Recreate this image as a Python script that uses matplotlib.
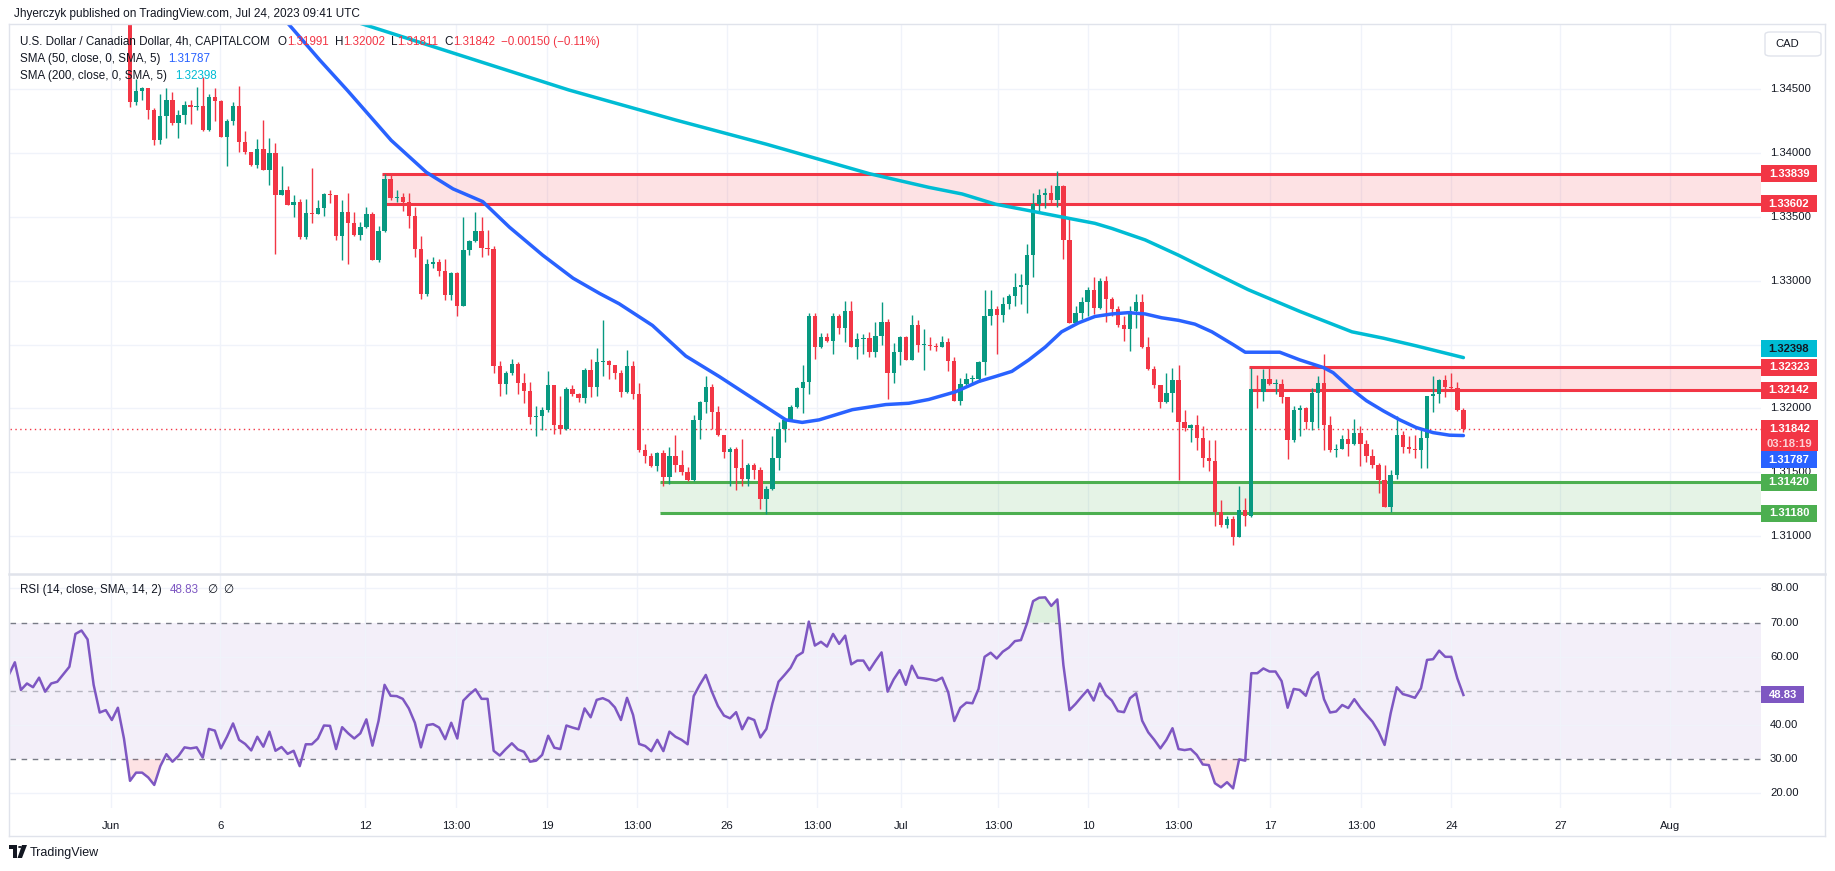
import numpy as np
import matplotlib
matplotlib.use("Agg")
import matplotlib.pyplot as plt
from matplotlib.patches import Rectangle, FancyBboxPatch, Circle, Polygon
from matplotlib.lines import Line2D

plt.rcParams['font.family'] = ['Liberation Sans', 'DejaVu Sans']

# USDCAD 4h candles, index 0 = first candle visible under the top edge
first_open = 1.3525
closes = [
    1.3440, 1.3449, 1.3451, 1.3434, 1.3410, 1.3429, 1.3442, 1.3424, 1.3430, 1.3438,
    1.3436, 1.3437, 1.3418, 1.3444, 1.3441, 1.3413, 1.3425, 1.3437, 1.3409, 1.3401,
    1.3391, 1.3403, 1.3387, 1.3400, 1.3367, 1.3371, 1.3359, 1.3362, 1.3334, 1.3353,
    1.3352, 1.3357, 1.3368, 1.3367, 1.3335, 1.3354, 1.3345, 1.3336, 1.3342, 1.3352,
    1.3316, 1.3339, 1.3380, 1.3365, 1.3366, 1.3362, 1.3351, 1.3325, 1.3290, 1.3313,
    1.3315, 1.3308, 1.3289, 1.3306, 1.3280, 1.3324, 1.3331, 1.3339, 1.3326, 1.3325,
    1.3233, 1.3219, 1.3228, 1.3235, 1.3220, 1.3214, 1.3193, 1.3194, 1.3199, 1.3218,
    1.3187, 1.3184, 1.3215, 1.3211, 1.3208, 1.3230, 1.3217, 1.3236, 1.3237, 1.3234,
    1.3228, 1.3213, 1.3233, 1.3211, 1.3167, 1.3163, 1.3155, 1.3165, 1.3146, 1.3163,
    1.3156, 1.3150, 1.3144, 1.3191, 1.3205, 1.3217, 1.3197, 1.3179, 1.3166, 1.3168,
    1.3153, 1.3145, 1.3156, 1.3152, 1.3129, 1.3137, 1.3161, 1.3184, 1.3191, 1.3201,
    1.3216, 1.3221, 1.3272, 1.3248, 1.3256, 1.3253, 1.3272, 1.3263, 1.3276, 1.3248,
    1.3254, 1.3255, 1.3244, 1.3257, 1.3268, 1.3228, 1.3244, 1.3256, 1.3238, 1.3265,
    1.3250, 1.3250, 1.3249, 1.3248, 1.3252, 1.3237, 1.3206, 1.3219, 1.3223, 1.3223,
    1.3236, 1.3272, 1.3278, 1.3273, 1.3282, 1.3288, 1.3295, 1.3297, 1.3320, 1.3360,
    1.3367, 1.3369, 1.3363, 1.3374, 1.3332, 1.3267, 1.3275, 1.3283, 1.3293, 1.3279,
    1.3300, 1.3286, 1.3278, 1.3265, 1.3262, 1.3276, 1.3283, 1.3248, 1.3231, 1.3218,
    1.3205, 1.3212, 1.3222, 1.3189, 1.3185, 1.3187, 1.3177, 1.3161, 1.3159, 1.3119,
    1.3109, 1.3113, 1.3099, 1.3120, 1.3116, 1.3215, 1.3213, 1.3223, 1.3219, 1.3219,
    1.3209, 1.3175, 1.3199, 1.3200, 1.3189, 1.3212, 1.3220, 1.3187, 1.3167, 1.3168,
    1.3176, 1.3172, 1.3181, 1.3172, 1.3163, 1.3156, 1.3144, 1.3123, 1.3148, 1.3179,
    1.3170, 1.3168, 1.3167, 1.3177, 1.3210, 1.3211, 1.3222, 1.3217, 1.3216, 1.31991,
    1.31842,
]
highs = [
    1.3530, 1.3458, 1.3452, 1.3451, 1.3435, 1.3446, 1.3451, 1.3448, 1.3434, 1.3441,
    1.3442, 1.3452, 1.3460, 1.3446, 1.3451, 1.3442, 1.3427, 1.3440, 1.3453, 1.3417,
    1.3400, 1.3411, 1.3426, 1.3412, 1.3408, 1.3390, 1.3374, 1.3367, 1.3364, 1.3364,
    1.3388, 1.3363, 1.3369, 1.3371, 1.3367, 1.3363, 1.3369, 1.3354, 1.3346, 1.3358,
    1.3354, 1.3343, 1.3384, 1.3383, 1.3371, 1.3369, 1.3369, 1.3358, 1.3335, 1.3317,
    1.3319, 1.3317, 1.3317, 1.3307, 1.3307, 1.3350, 1.3332, 1.3354, 1.3350, 1.3340,
    1.3327, 1.3237, 1.3229, 1.3239, 1.3236, 1.3228, 1.3221, 1.3202, 1.3201, 1.3229,
    1.3218, 1.3210, 1.3217, 1.3218, 1.3212, 1.3232, 1.3239, 1.3247, 1.3269, 1.3238,
    1.3233, 1.3230, 1.3246, 1.3237, 1.3220, 1.3172, 1.3165, 1.3166, 1.3167, 1.3170,
    1.3179, 1.3167, 1.3154, 1.3195, 1.3206, 1.3225, 1.3219, 1.3202, 1.3179, 1.3170,
    1.3170, 1.3176, 1.3157, 1.3157, 1.3154, 1.3139, 1.3178, 1.3189, 1.3192, 1.3203,
    1.3217, 1.3234, 1.3275, 1.3275, 1.3259, 1.3259, 1.3275, 1.3274, 1.3284, 1.3284,
    1.3259, 1.3258, 1.3260, 1.3268, 1.3283, 1.3270, 1.3251, 1.3257, 1.3257, 1.3273,
    1.3269, 1.3262, 1.3256, 1.3251, 1.3257, 1.3255, 1.3240, 1.3224, 1.3228, 1.3226,
    1.3237, 1.3293, 1.3293, 1.3280, 1.3287, 1.3290, 1.3306, 1.3305, 1.3329, 1.3369,
    1.3372, 1.3373, 1.3375, 1.3386, 1.3375, 1.3349, 1.3280, 1.3287, 1.3295, 1.3303,
    1.3302, 1.3304, 1.3287, 1.3280, 1.3272, 1.3280, 1.3290, 1.3290, 1.3256, 1.3233,
    1.3218, 1.3228, 1.3232, 1.3234, 1.3199, 1.3188, 1.3195, 1.3186, 1.3175, 1.3175,
    1.3128, 1.3116, 1.3116, 1.3139, 1.3130, 1.3232, 1.3226, 1.3231, 1.3232, 1.3223,
    1.3223, 1.3209, 1.3202, 1.3203, 1.3201, 1.3216, 1.3225, 1.3243, 1.3194, 1.3172,
    1.3179, 1.3184, 1.3192, 1.3186, 1.3175, 1.3168, 1.3157, 1.3156, 1.3152, 1.3194,
    1.3182, 1.3178, 1.3179, 1.3183, 1.3210, 1.3225, 1.3223, 1.3226, 1.3228, 1.3221,
    1.32002,
]
lows = [
    1.3436, 1.3438, 1.3442, 1.3427, 1.3406, 1.3407, 1.3412, 1.3422, 1.3412, 1.3423,
    1.3423, 1.3434, 1.3417, 1.3417, 1.3425, 1.3413, 1.3390, 1.3422, 1.3401, 1.3399,
    1.3390, 1.3388, 1.3387, 1.3375, 1.3321, 1.3367, 1.3359, 1.3350, 1.3333, 1.3333,
    1.3345, 1.3352, 1.3351, 1.3361, 1.3332, 1.3316, 1.3313, 1.3335, 1.3332, 1.3341,
    1.3316, 1.3315, 1.3338, 1.3363, 1.3362, 1.3355, 1.3341, 1.3319, 1.3286, 1.3288,
    1.3310, 1.3304, 1.3285, 1.3285, 1.3272, 1.3282, 1.3320, 1.3330, 1.3319, 1.3320,
    1.3228, 1.3210, 1.3211, 1.3226, 1.3211, 1.3204, 1.3188, 1.3178, 1.3183, 1.3197,
    1.3180, 1.3180, 1.3183, 1.3210, 1.3205, 1.3204, 1.3209, 1.3210, 1.3225, 1.3223,
    1.3223, 1.3209, 1.3212, 1.3207, 1.3166, 1.3157, 1.3154, 1.3151, 1.3139, 1.3141,
    1.3150, 1.3148, 1.3143, 1.3143, 1.3176, 1.3196, 1.3184, 1.3178, 1.3161, 1.3139,
    1.3136, 1.3139, 1.3139, 1.3145, 1.3121, 1.3117, 1.3136, 1.3152, 1.3174, 1.3190,
    1.3200, 1.3196, 1.3211, 1.3239, 1.3247, 1.3252, 1.3243, 1.3258, 1.3252, 1.3248,
    1.3239, 1.3243, 1.3240, 1.3240, 1.3250, 1.3207, 1.3220, 1.3234, 1.3238, 1.3238,
    1.3244, 1.3230, 1.3246, 1.3245, 1.3248, 1.3229, 1.3206, 1.3203, 1.3218, 1.3218,
    1.3221, 1.3226, 1.3265, 1.3243, 1.3268, 1.3278, 1.3280, 1.3282, 1.3275, 1.3303,
    1.3355, 1.3357, 1.3360, 1.3358, 1.3317, 1.3267, 1.3266, 1.3270, 1.3272, 1.3274,
    1.3278, 1.3268, 1.3272, 1.3264, 1.3253, 1.3245, 1.3263, 1.3247, 1.3230, 1.3216,
    1.3200, 1.3204, 1.3197, 1.3144, 1.3182, 1.3174, 1.3167, 1.3154, 1.3151, 1.3108,
    1.3107, 1.3106, 1.3093, 1.3099, 1.3108, 1.3115, 1.3200, 1.3206, 1.3218, 1.3211,
    1.3204, 1.3160, 1.3174, 1.3178, 1.3184, 1.3183, 1.3185, 1.3167, 1.3166, 1.3162,
    1.3168, 1.3163, 1.3171, 1.3155, 1.3158, 1.3153, 1.3134, 1.3123, 1.3119, 1.3145,
    1.3165, 1.3165, 1.3161, 1.3153, 1.3153, 1.3197, 1.3204, 1.3209, 1.3214, 1.3198,
    1.31811,
]

# moving averages, read as points along the drawn lines
sma50_idx = [26.0, 31.3, 35.9, 43.1, 48.9, 53.3, 58.2, 62.6, 68.1, 73.1, 77.5, 80.7,
             86.2, 91.7, 97.2, 102.7, 108.2, 110.9, 113.7, 119.2, 124.7, 128.5, 131.8,
             136.2, 140.0, 142.8, 145.5, 148.3, 151.0, 153.7, 156.5, 159.2, 162.0,
             164.7, 167.5, 170.2, 173.0, 175.7, 178.5, 182.0, 184.0, 189.7, 193.0,
             196.9, 198.5, 201.3, 204.0, 206.8, 209.5, 212.2, 215.0, 217.7, 220.0]
sma50_val = [1.3502, 1.3473, 1.3449, 1.3410, 1.3385, 1.3372, 1.3362, 1.3342, 1.3320,
             1.3302, 1.3290, 1.3282, 1.3265, 1.3241, 1.3225, 1.3208, 1.3191, 1.3189,
             1.3191, 1.3199, 1.3203, 1.3204, 1.3207, 1.3213, 1.3221, 1.3225, 1.3229,
             1.3238, 1.3248, 1.3260, 1.3267, 1.3272, 1.3274, 1.3275, 1.3274, 1.3271,
             1.3269, 1.3266, 1.3260, 1.3250, 1.3244, 1.3244, 1.3238, 1.3232, 1.3228,
             1.3216, 1.3206, 1.3198, 1.3191, 1.3185, 1.3181, 1.3179, 1.31787]
sma200_idx = [36.5, 39.8, 72.4, 90.0, 105.0, 122.0, 131.8, 137.3, 142.8, 148.3, 153.7,
              159.2, 162.0, 167.5, 173.0, 178.5, 184.5, 193.0, 201.6, 206.8, 212.2, 220.0]
sma200_val = [1.3504, 1.3499, 1.34495, 1.3426, 1.3407, 1.33839, 1.33732, 1.3368, 1.3360,
              1.3355, 1.3350, 1.3345, 1.3341, 1.3332, 1.3320, 1.3307, 1.3293, 1.3276,
              1.3260, 1.3255, 1.3249, 1.32398]

# RSI(14), one value per candle, starting 20 candles before index 0
rsi_start = -20
rsi_vals = [
    54.7, 58.4, 50.3, 52.2, 51.1, 53.9, 49.8, 52.2, 52.7, 54.9,
    57.1, 66.7, 67.7, 65.1, 51.8, 43.7, 44.4, 41.5, 45.1, 36.1,
    23.7, 26.1, 26.1, 24.7, 22.5, 28.0, 31.5, 29.3, 31.0, 33.5,
    33.2, 33.5, 30.5, 38.9, 38.4, 33.2, 36.6, 40.5, 35.7, 34.5,
    32.6, 36.6, 33.7, 38.1, 32.5, 33.6, 31.6, 32.5, 28.0, 34.4,
    34.4, 36.1, 39.9, 39.8, 33.0, 39.4, 37.6, 36.1, 37.6, 41.7,
    34.0, 41.2, 51.8, 48.6, 48.5, 47.7, 44.9, 40.7, 33.5, 40.0,
    40.3, 39.3, 35.9, 40.7, 36.1, 47.2, 49.0, 50.5, 47.7, 47.7,
    32.5, 31.1, 33.0, 34.7, 32.9, 32.2, 29.3, 29.6, 31.3, 36.9,
    33.4, 33.0, 39.9, 39.3, 38.8, 44.9, 42.3, 47.4, 47.9, 47.1,
    45.2, 41.5, 48.0, 43.0, 34.5, 33.9, 32.4, 35.7, 32.4, 38.1,
    36.6, 35.7, 34.4, 48.5, 51.8, 54.7, 49.8, 45.6, 42.8, 42.0,
    43.8, 38.8, 42.2, 41.5, 36.4, 38.9, 46.4, 52.7, 54.7, 56.8,
    60.2, 61.3, 70.3, 63.3, 64.4, 63.0, 66.7, 63.8, 66.2, 57.8,
    58.9, 58.9, 56.1, 58.8, 61.3, 49.8, 53.4, 56.1, 51.8, 57.4,
    53.9, 53.7, 53.4, 53.0, 53.9, 49.6, 41.2, 45.1, 46.6, 46.4,
    50.6, 60.0, 61.2, 59.5, 61.5, 62.7, 64.6, 64.9, 69.8, 76.3,
    77.3, 77.4, 74.9, 76.8, 57.6, 44.4, 46.2, 48.3, 50.3, 47.2,
    52.2, 48.8, 47.2, 44.1, 43.8, 47.9, 49.3, 41.3, 37.9, 35.7,
    33.2, 35.7, 39.1, 33.0, 32.7, 33.0, 31.3, 28.5, 28.3, 23.0,
    21.8, 23.3, 21.5, 30.0, 29.6, 55.2, 55.2, 56.6, 55.7, 55.7,
    52.9, 45.1, 50.6, 50.3, 48.6, 53.7, 55.5, 47.6, 43.7, 44.0,
    45.9, 45.0, 47.6, 45.1, 43.0, 41.0, 38.1, 34.2, 43.5, 51.1,
    49.1, 48.6, 48.0, 50.8, 59.1, 59.3, 61.8, 60.0, 60.0, 53.7,
    48.83,
]

# zones drawn by the author: (low, high, first candle)
resist_top = (1.33602, 1.33839, 41.5)
resist_mid = (1.32142, 1.32323, 184.7)
support = (1.31180, 1.31420, 87.5)

date_pos = [-3.1, 14.9, 38.8, 53.8, 68.8, 83.7, 98.5, 113.4, 127.2, 143.2, 158.1,
            172.9, 188.1, 203.1, 218.0, 236.0, 254.1]
date_lbl = ['Jun', '6', '12', '13:00', '19', '13:00', '26', '13:00', 'Jul', '13:00',
            '10', '13:00', '17', '13:00', '24', '27', 'Aug']
price_ticks = [1.310, 1.315, 1.320, 1.325, 1.330, 1.335, 1.340, 1.345]
rsi_ticks = [20, 30, 40, 60, 70, 80]   # 50.00 sits under the value tag

UP = '#089981'
DN = '#F23645'
BLUE = '#2962FF'
CYAN = '#00BCD4'
PURPLE = '#7E57C2'
GREEN = '#4CAF50'
GRID = '#F0F3FA'
TXT = '#131722'
FRAME = '#E0E3EB'

W, H = 1835, 871
fig = plt.figure(figsize=(W / 100, H / 100), dpi=100)
fig.patch.set_facecolor('white')

L, R = 10, 1761


def pane(top, bot):
    return [L / W, 1 - bot / H, (R - L) / W, (bot - top) / H]


ax = fig.add_axes(pane(24, 573))
axr = fig.add_axes(pane(575, 808))
XLIM = (-19.8, 269.1)
for a in (ax, axr):
    a.set_xlim(*XLIM)
    for s in a.spines.values():
        s.set_visible(False)
    a.set_xticks(date_pos)
    a.tick_params(length=0, labelleft=False, labelbottom=False)
    a.grid(True, color=GRID, lw=1)
    a.set_axisbelow(True)
ax.set_ylim(1.30710, 1.35012)
ax.set_yticks(price_ticks)
axr.set_ylim(15.75, 83.95)
axr.set_yticks([20, 40, 60, 80])
axr.set_xticklabels(date_lbl)
axr.tick_params(labelbottom=True, pad=9.5, labelsize=8.1, labelcolor=TXT)

# candles
c = np.array(closes)
o = np.r_[first_open, c[:-1]]
h = np.maximum(np.array(highs), np.maximum(o, c))
lo = np.minimum(np.array(lows), np.minimum(o, c))
k = np.arange(len(c))
col = np.where(c >= o, UP, DN)
ax.vlines(k, lo, h, colors=col, lw=1.0, zorder=3)
ax.bar(k, np.maximum(np.abs(c - o), 0.00008), bottom=np.minimum(o, c), width=0.72,
       color=col, lw=0, zorder=3)

# zones
for (zlo, zhi, start), zc in ((resist_top, DN), (resist_mid, DN), (support, GREEN)):
    ax.add_patch(Rectangle((start, zlo), XLIM[1] - start, zhi - zlo, facecolor=zc,
                           alpha=0.14, lw=0, zorder=1))
    ax.hlines([zlo, zhi], start, XLIM[1], colors=zc, lw=2.2, zorder=2)

ax.axhline(closes[-1], color=DN, lw=1, ls=(0, (1, 2.5)), zorder=2)
ax.plot(sma200_idx, sma200_val, color=CYAN, lw=2.5, zorder=4, solid_capstyle='round')
ax.plot(sma50_idx, sma50_val, color=BLUE, lw=2.5, zorder=4, solid_capstyle='round')

# RSI pane
ri = np.arange(rsi_start, rsi_start + len(rsi_vals))
rv = np.array(rsi_vals)
axr.axhspan(30, 70, color=PURPLE, alpha=0.09, lw=0, zorder=0)
for lvl, al in ((70, 1.0), (30, 1.0), (50, 0.5)):
    axr.axhline(lvl, color='#787B86', alpha=al, lw=1, ls=(0, (4, 4)), zorder=1)
axr.fill_between(ri, rv, 70, where=rv > 70, interpolate=True, color=GREEN, alpha=0.18, lw=0)
axr.fill_between(ri, rv, 30, where=rv < 30, interpolate=True, color=DN, alpha=0.14, lw=0)
axr.plot(ri, rv, color=PURPLE, lw=1.8, zorder=3)


def fy(y):
    return 1 - y / H


def ypix(a, v):
    return H - a.transData.transform((0, v))[1]


def frame_line(x0, y0, x1, y1, lw=1.0):
    fig.add_artist(Line2D([x0 / W, x1 / W], [fy(y0), fy(y1)], color=FRAME, lw=lw,
                          transform=fig.transFigure, zorder=1))


frame_line(9, 24, 1825, 24)
frame_line(9, 836, 1825, 836)
frame_line(9, 24, 9, 836)
frame_line(1825, 24, 1825, 836)
frame_line(9, 574, 1825, 574, lw=1.8)

# axis labels
for p in price_ticks:
    fig.text(1770 / W, fy(ypix(ax, p)), f'{p:.5f}', fontsize=8.1, color=TXT,
             ha='left', va='center', zorder=3)
for r in rsi_ticks:
    fig.text(1770 / W, fy(ypix(axr, r)), f'{r:.2f}', fontsize=8.1, color=TXT,
             ha='left', va='center', zorder=3)


def tag(yc, text, face, fg='white', x0=1761, x1=1817, hgt=17):
    fig.add_artist(Rectangle((x0 / W, fy(yc + hgt / 2)), (x1 - x0) / W, hgt / H,
                             transform=fig.transFigure, facecolor=face, lw=0, zorder=5))
    fig.text((x0 + x1) / 2 / W, fy(yc), text, color=fg, fontsize=8.1, fontweight='bold',
             ha='center', va='center', zorder=6)


tag(ypix(ax, resist_top[1]), f'{resist_top[1]:.5f}', DN)
tag(ypix(ax, resist_top[0]), f'{resist_top[0]:.5f}', DN)
tag(ypix(ax, sma200_val[-1]) - 9, f'{sma200_val[-1]:.5f}', CYAN, fg=TXT)
tag(ypix(ax, resist_mid[1]), f'{resist_mid[1]:.5f}', DN)
tag(ypix(ax, resist_mid[0]), f'{resist_mid[0]:.5f}', DN)
tag(ypix(ax, support[1]), f'{support[1]:.5f}', GREEN)
tag(ypix(ax, support[0]), f'{support[0]:.5f}', GREEN)
tag(ypix(ax, sma50_val[-1]) + 24, f'{sma50_val[-1]:.5f}', BLUE)
# last price with countdown
yc = ypix(ax, closes[-1])
fig.add_artist(Rectangle((1761 / W, fy(yc + 22.5)), 57 / W, 31 / H, transform=fig.transFigure,
                         facecolor=DN, lw=0, zorder=5))
fig.text(1789.5 / W, fy(yc), f'{closes[-1]:.5f}', color='white', fontsize=8.1,
         fontweight='bold', ha='center', va='center', zorder=6)
fig.text(1789.5 / W, fy(yc + 15), '03:18:19', color='#FCD2D6', fontsize=8.1,
         fontweight='bold', ha='center', va='center', zorder=6)
tag(ypix(axr, rsi_vals[-1]), f'{rsi_vals[-1]:.2f}', PURPLE, x1=1804)

# currency box
fig.add_artist(FancyBboxPatch((1765 / W, fy(56)), 56 / W, 24 / H, transform=fig.transFigure,
                              boxstyle='round,pad=0,rounding_size=0.003', facecolor='white',
                              edgecolor=FRAME, lw=1, zorder=5))
fig.text(1775 / W, fy(44), 'CAD', fontsize=8.1, color=TXT, ha='left', va='center', zorder=6)

# legend rows
renderer = fig.canvas.get_renderer()


def text_row(x, y, parts, size=8.4):
    for s, tc, gap in parts:
        t = fig.text(x / W, fy(y), s, color=tc, fontsize=size, ha='left', va='center', zorder=7)
        x += t.get_window_extent(renderer).width + gap


text_row(14, 14, [('Jhyerczyk published on TradingView.com, Jul 24, 2023 09:41 UTC', TXT, 0)],
         size=8.5)
text_row(20, 42, [('U.S. Dollar / Canadian Dollar, 4h, CAPITALCOM', TXT, 8),
                  ('O', TXT, 0), ('1.31991', DN, 6), ('H', TXT, 0), ('1.32002', DN, 6),
                  ('L', TXT, 0), ('1.31811', DN, 6), ('C', TXT, 0), ('1.31842', DN, 6),
                  ('\u22120.00150 (\u22120.11%)', DN, 0)])
text_row(20, 59, [('SMA (50, close, 0, SMA, 5)', TXT, 8), ('1.31787', BLUE, 0)])
text_row(20, 76, [('SMA (200, close, 0, SMA, 5)', TXT, 8), ('1.32398', CYAN, 0)])
text_row(20, 590, [('RSI (14, close, SMA, 14, 2)', TXT, 8), ('48.83', PURPLE, 8),
                   ('\u2205', TXT, 6), ('\u2205', TXT, 0)])

# TradingView mark
fig.add_artist(Rectangle((9 / W, fy(849)), 8 / W, 4 / H, transform=fig.transFigure,
                         facecolor=TXT, lw=0, zorder=5))
fig.add_artist(Rectangle((13 / W, fy(858)), 4 / W, 13 / H, transform=fig.transFigure,
                         facecolor=TXT, lw=0, zorder=5))
fig.add_artist(Circle((20 / W, fy(847)), 2 / W, transform=fig.transFigure,
                      facecolor=TXT, lw=0, zorder=5))
fig.add_artist(Polygon([(22 / W, fy(845)), (27 / W, fy(845)), (22 / W, fy(858)),
                        (17.5 / W, fy(858))], closed=True, transform=fig.transFigure,
                       facecolor=TXT, lw=0, zorder=5))
fig.text(30 / W, fy(853), 'TradingView', fontsize=9, color=TXT, ha='left', va='center')

fig.savefig('out.png', dpi=100)
